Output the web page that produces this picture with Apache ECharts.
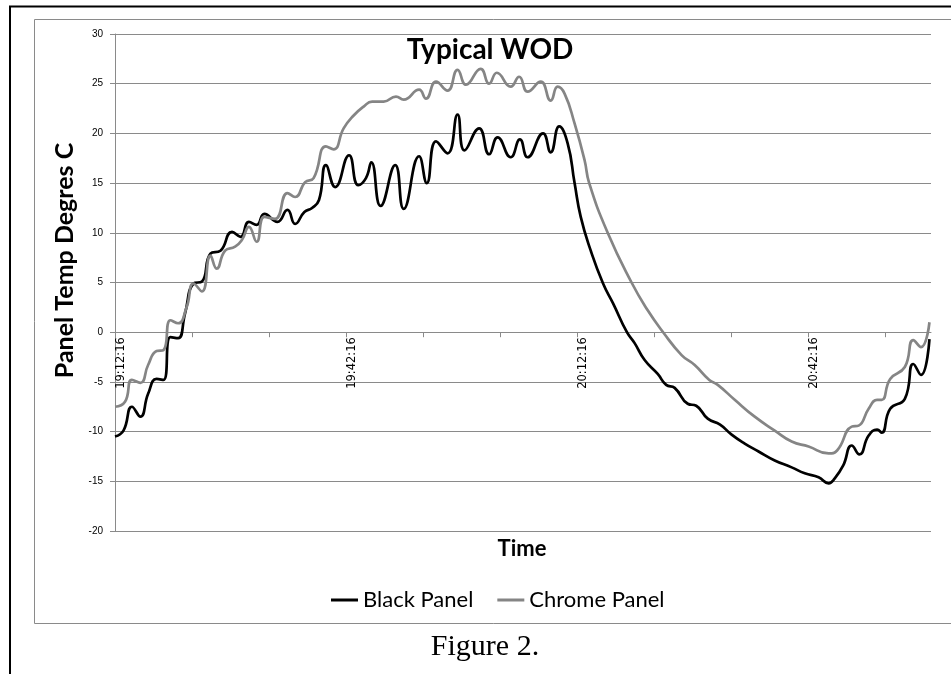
<!DOCTYPE html>
<html><head><meta charset="utf-8">
<script src="https://cdn.jsdelivr.net/npm/echarts@6/dist/echarts.min.js"></script>
<style>html,body{margin:0;padding:0;background:#fff}#c{width:951px;height:674px}</style>
</head><body><div id="c"></div>
<script>
// minutes after 19:12:16 and temperatures (deg C)
const blackMinutes = [0,1.1,2.2,3.3,4.3,5.4,6.3,7.2,8.2,9.1,10.2,11.3,12.4,13.7,15.2,16.3,17.4,18.4,19.4,21.1,22.4,23.4,24.6,25.6,26.5,27.4,28.6,30.4,31.6,32.6,33.3,34.5,36.4,37.5,39.5,40.5,41.7,43.2,44.5,45.4,47.3,48.6,49.7,51.4,52.6,53.6,55.6,56.6,57.7,58.8,59.7,60.5,61.8,63.4,64.7,66.5,67.5,68.8,70.5,71.6,72.7,74.4,75.5,77.0,78.6,80.1,81.8,83.6,85.7,87.9,89.6,91.4,92.7,93.5,94.6,95.7,96.7,97.9,99.0,99.6,100.7,102.6,103.7,104.7,105.8];
const blackTemps = [-10.5,-9.9,-7.5,-8.5,-6.2,-4.7,-4.8,-0.5,-0.6,1.9,4.9,5.1,7.9,8.2,10.1,9.6,11.1,10.8,11.9,11.1,12.3,10.9,12.1,12.5,13.3,16.8,14.6,17.8,14.8,15.5,17.1,12.7,16.8,12.4,17.7,15.0,19.2,18.0,21.9,18.3,20.5,17.9,19.6,17.6,19.4,17.6,20.0,18.1,20.7,19.0,15.0,11.6,8.2,4.9,2.9,0.0,-1.1,-2.8,-4.2,-5.3,-5.6,-7.2,-7.4,-8.7,-9.3,-10.3,-11.2,-12.0,-12.9,-13.6,-14.2,-14.6,-15.2,-14.7,-13.4,-11.4,-12.3,-10.4,-9.8,-10.1,-7.7,-6.7,-3.2,-4.3,-0.7];
const chromeMinutes = [0,1.3,2.2,3.3,4.3,5.4,6.3,7.2,8.2,9.3,10.2,11.3,12.4,13.2,14.3,15.6,16.5,17.4,18.4,19.4,20.8,22.4,23.4,24.7,25.8,27.4,28.4,29.7,31.0,32.3,33.4,34.9,36.5,37.5,39.5,40.4,41.7,43.2,44.5,45.6,47.5,48.6,49.6,51.4,52.5,53.6,55.3,56.6,57.5,58.4,59.7,61.0,61.6,64.0,67.1,69.2,71.2,73.6,75.3,77.2,78.3,80.5,83.1,85.7,87.9,90.1,92.7,93.8,95.7,96.6,97.9,99.0,99.6,100.7,102.6,103.7,104.7,105.8];
const chromeTemps = [-7.5,-7.0,-4.8,-5.1,-3.3,-1.9,-1.8,1.2,0.9,2.5,4.9,4.1,7.7,6.4,8.2,8.6,9.3,10.6,9.1,11.6,11.4,14.0,13.6,15.1,15.5,18.7,18.4,20.5,21.8,22.7,23.2,23.2,23.7,23.4,24.4,23.5,25.2,24.3,26.4,24.9,26.5,25.0,26.1,24.7,25.7,24.2,25.2,23.3,24.7,24.0,21.0,17.3,15.0,10.0,5.0,2.2,0.0,-2.3,-3.3,-4.8,-5.3,-6.8,-8.5,-9.9,-11.0,-11.5,-12.2,-11.9,-9.5,-9.4,-7.7,-6.8,-6.8,-4.7,-3.5,-0.8,-1.5,1.0];
const tickMinutes = [0,10,20,30,40,50,60,70,80,90,100];
const labelMinutes = [0,30,60,90];
const startTime = '19:12:16';
const seriesNames = ['Black Panel','Chrome Panel'];
const yMin = -20, yMax = 30, yStep = 5;

function timeLabel(m){
  const p = startTime.split(':').map(Number);
  let s = p[0]*3600 + p[1]*60 + p[2] + Math.round(m*60);
  const h = Math.floor(s/3600); s -= h*3600;
  const mi = Math.floor(s/60); s -= mi*60;
  const pad = v => (v<10?'0':'')+v;
  return h+':'+pad(mi)+':'+pad(s);
}

const W = 951, H = 674;
const grid = {left:115, right:20, top:34, bottom:143};
const plotH = H - grid.top - grid.bottom;
// move the time axis up to the 0 line of the value axis
const zeroOffset = -plotH * (0 - yMin) / (yMax - yMin);

const chart = echarts.init(document.getElementById('c'), null, {renderer:'canvas'});
const gray = '#8a8a8a';
chart.setOption({
  backgroundColor:'#fff',
  animation:false,
  title:[
    {text:'Typical WOD', left:490, top:36, textAlign:'center', padding:0,
     textStyle:{fontFamily:'Lato', fontWeight:'bold', fontSize:28, color:'#000'}},
    {text:'Time', left:522, top:538, textAlign:'center', padding:0,
     textStyle:{fontFamily:'Lato', fontWeight:'bold', fontSize:22, color:'#000'}},
    {text:'Figure 2.', left:485, top:632, textAlign:'center', padding:0,
     textStyle:{fontFamily:'Liberation Serif', fontWeight:'normal', fontSize:30, color:'#000'}}
  ],
  legend:{
    data:seriesNames, left:326, top:584, icon:'rect', itemWidth:27, itemHeight:3, itemGap:24,
    textStyle:{fontFamily:'Lato', fontSize:22, color:'#000'}
  },
  grid:Object.assign({containLabel:false}, grid),
  xAxis:{
    type:'value', min:0, max:106, position:'bottom', offset:zeroOffset,
    axisLine:{show:true, onZero:false, lineStyle:{color:gray, width:1}},
    axisTick:{show:true, length:5, customValues:tickMinutes, lineStyle:{color:gray}},
    axisLabel:{customValues:labelMinutes, rotate:90, verticalAlign:'top', margin:5,
      fontFamily:'DejaVu Sans', fontSize:11.5, color:'#000', formatter:v=>timeLabel(v)},
    splitLine:{show:false}
  },
  yAxis:{
    type:'value', min:yMin, max:yMax, interval:yStep,
    name:'Panel Temp Degres C', nameLocation:'middle', nameGap:36,
    nameTextStyle:{fontFamily:'Lato', fontWeight:'bold', fontSize:25, color:'#000', padding:[0,0,0,44]},
    axisLine:{show:true, lineStyle:{color:gray, width:1}},
    axisTick:{show:true, length:5, lineStyle:{color:gray}},
    axisLabel:{fontFamily:'Liberation Sans', fontSize:10, color:'#000', margin:12},
    splitLine:{show:true, lineStyle:{color:gray, width:1}}
  },
  series:[
    {name:seriesNames[0], type:'line', smooth:true, symbol:'none', showSymbol:false,
     lineStyle:{color:'#000', width:2.7}, itemStyle:{color:'#000'},
     data:blackMinutes.map((m,i)=>[m, blackTemps[i]])},
    {name:seriesNames[1], type:'line', smooth:true, symbol:'none', showSymbol:false,
     lineStyle:{color:'#858585', width:2.7}, itemStyle:{color:'#858585'},
     data:chromeMinutes.map((m,i)=>[m, chromeTemps[i]])}
  ],
  graphic:[
    {type:'line', shape:{x1:34.5, y1:19.5, x2:960, y2:19.5}, style:{stroke:gray, lineWidth:1}},
    {type:'line', shape:{x1:34.5, y1:19.5, x2:34.5, y2:623.5}, style:{stroke:gray, lineWidth:1}},
    {type:'line', shape:{x1:34.5, y1:623.5, x2:960, y2:623.5}, style:{stroke:gray, lineWidth:1}},
    {type:'line', shape:{x1:9, y1:6.5, x2:960, y2:6.5}, style:{stroke:'#000', lineWidth:2}},
    {type:'line', shape:{x1:10, y1:6, x2:10, y2:680}, style:{stroke:'#000', lineWidth:2}}
  ]
});
</script></body></html>
